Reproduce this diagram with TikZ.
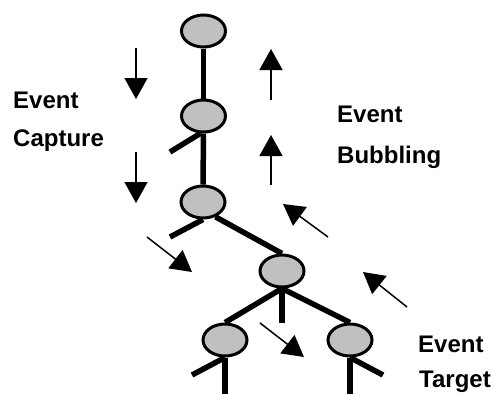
\documentclass[tikz,border=0pt]{standalone}
\usepackage{fontspec}
\setmainfont{Liberation Sans}
\usetikzlibrary{shapes.geometric,arrows.meta,backgrounds}
\definecolor{nodegray}{HTML}{C0C0C0}
\tikzset{
  evnode/.style={ellipse,draw=black,fill=nodegray,line width=3pt,minimum width=44pt,minimum height=32pt,inner sep=0pt},
  edge/.style={line width=5.5pt,black},
  flow/.style={line width=1.5pt,-{Triangle[length=21pt,width=23pt]}},
  lbl/.style={anchor=base west,inner sep=0pt,font=\fontsize{24pt}{28pt}\selectfont\bfseries}
}
\begin{document}
\begin{tikzpicture}[x=1pt,y=-1pt]
\useasboundingbox (0,0) rectangle (494,394);
% nodes
\node[evnode] (n1) at (203.5,31) {};
\node[evnode] (n2) at (203.5,116) {};
\node[evnode] (n3) at (203,202) {};
\node[evnode] (n4) at (282,271) {};
\node[evnode] (n5) at (225,340) {};
\node[evnode] (n6) at (350,340) {};
% free ends
\coordinate (s2) at (170,152);
\coordinate (s3) at (170,237);
\coordinate (s4) at (282,323);
\coordinate (s5) at (192,375);
\coordinate (s6) at (383,375);
\coordinate (b5) at (225,394);
\coordinate (b6) at (350,394);
\begin{scope}[on background layer]
\draw[edge] (n1) -- (n2);
\draw[edge] (n2) -- (n3);
\draw[edge] (n2.-100) -- (s2);
\draw[edge] (n3.south) -- (s3);
\draw[edge] (n3.-50) -- (n4.north);
\draw[edge] (n4.south) -- (s4);
\draw[edge] (n4.south) -- (n5.north);
\draw[edge] (n4.south) -- (n6.north);
\draw[edge] (n5.south) -- (s5);
\draw[edge] (n5.south) -- (b5);
\draw[edge] (n6.south) -- (s6);
\draw[edge] (n6.south) -- (b6);
\end{scope}
% flow arrows
\coordinate (a1t) at (136,48);  \coordinate (a1h) at (136,99);
\coordinate (a2t) at (136,152); \coordinate (a2h) at (136,203);
\coordinate (a3t) at (271,100); \coordinate (a3h) at (271,49);
\coordinate (a4t) at (271,185); \coordinate (a4h) at (271,135);
\coordinate (a5t) at (328,237); \coordinate (a5h) at (283,204);
\coordinate (a6t) at (147,237); \coordinate (a6h) at (192,272);
\coordinate (a7t) at (260,323); \coordinate (a7h) at (304,357);
\coordinate (a8t) at (407,307); \coordinate (a8h) at (363,272);
\draw[flow] (a1t) -- (a1h);
\draw[flow] (a2t) -- (a2h);
\draw[flow] (a3t) -- (a3h);
\draw[flow] (a4t) -- (a4h);
\draw[flow] (a5t) -- (a5h);
\draw[flow] (a6t) -- (a6h);
\draw[flow] (a7t) -- (a7h);
\draw[flow] (a8t) -- (a8h);
% labels
\node[lbl] (l1) at (13,108) {Event};
\node[lbl] (l2) at (13,146) {Capture};
\node[lbl] (l3) at (337,122) {Event};
\node[lbl] (l4) at (337,163) {Bubbling};
\node[lbl] (l5) at (418,352) {Event};
\node[lbl] (l6) at (419,387) {Target};
\end{tikzpicture}
\end{document}
